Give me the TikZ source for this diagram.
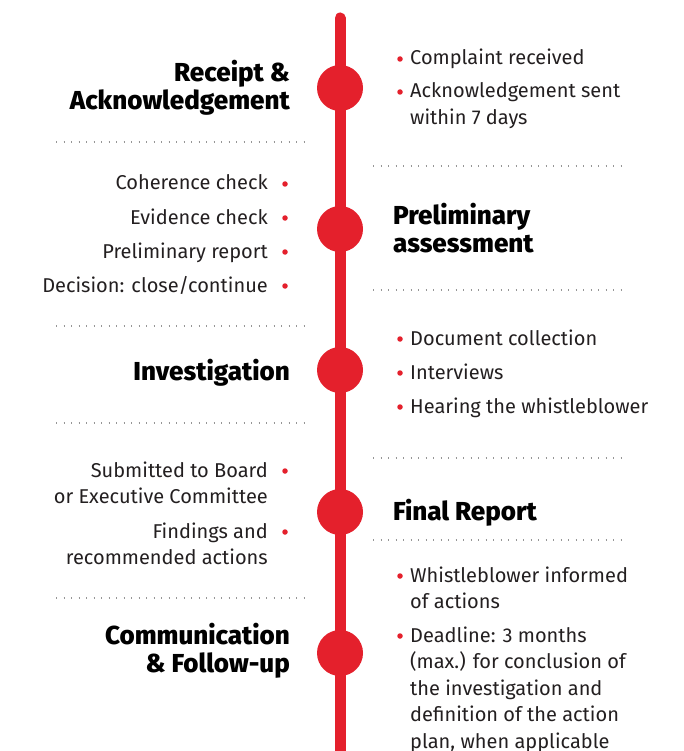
\documentclass[tikz,border=0pt]{standalone}
\usepackage{fontspec}
\setmainfont{Fira Sans}[BoldFont={Fira Sans ExtraBold}]
\usepackage{tikz}

\definecolor{tlRed}{RGB}{228,32,44}
\definecolor{tlText}{RGB}{35,31,32}
\definecolor{tlDots}{RGB}{150,150,150}

\begin{document}
\begin{tikzpicture}[x=1pt,y=-1pt,
  milestone/.style={circle,fill=tlRed,inner sep=0pt,minimum size=46pt},
  phase/.style={font=\fontsize{26}{28}\selectfont\bfseries,text=black,inner sep=0pt},
  item/.style={font=\fontsize{20}{26.5}\selectfont,text=tlText,inner sep=0pt},
  dot/.style={circle,fill=tlRed,inner sep=0pt,minimum size=5.5pt},
  sep/.style={tlDots,line width=1.4pt,dash pattern=on 1.4pt off 6.1pt}]
\useasboundingbox (0,0) rectangle (684,751);

% spine and milestones
\coordinate (top) at (340,18);
\coordinate (bot) at (340,770);
\draw[tlRed,line width=11pt,line cap=round] (top) -- (bot);
\node[milestone] (recpt) at (340,88) {};
\node[milestone] (prelim) at (340,229) {};
\node[milestone] (invest) at (340,370) {};
\node[milestone] (final) at (340,512) {};
\node[milestone] (comm) at (340,653) {};

% separators
\foreach \y in {142,326,423,598}
  \draw[sep] (56,\y) -- (305,\y);
\foreach \y in {166,290,458,540}
  \draw[sep] (373,\y) -- (622,\y);

% phase titles (base anchor sits on the last line)
\node[phase,align=right,anchor=base east] (recptT) at (290,110) {Receipt \&\\Acknowledgement};
\node[phase,align=left,anchor=base west] (prelimT) at (393,252) {Preliminary\\assessment};
\node[phase,anchor=base east] (investT) at (290,380) {Investigation};
\node[phase,anchor=base west] (finalT) at (393,520) {Final Report};
\node[phase,align=right,anchor=base east] (commT) at (290,672) {Communication\\\& Follow-up};

% right hand items: name / first baseline / lines / text
\foreach \n/\y/\k/\t in {r1/65/1/{Complaint received},
                         r2/98/2/{Acknowledgement sent\\within 7 days},
                         r3/345/1/{Document collection},
                         r4/379/1/{Interviews},
                         r5/413/1/{Hearing the whistleblower},
                         r6/582/2/{Whistleblower informed\\of actions},
                         r7/642/5/{Deadline: 3 months\\(max.) for conclusion of\\the investigation and\\definition of the action\\plan, when applicable}}
{
  \node[item,align=left,anchor=base west] (\n) at (410,\y+\k*26.5-26.5) {\t};
  \node[dot] (\n b) at (400,\y-6) {};
}

% left hand items
\foreach \n/\y/\k/\t in {l1/190/1/{Coherence check},
                         l2/224/1/{Evidence check},
                         l3/258/1/{Preliminary report},
                         l4/292/1/{Decision: close/continue},
                         l5/477/2/{Submitted to Board\\or Executive Committee},
                         l6/538/2/{Findings and\\recommended actions}}
{
  \node[item,align=right,anchor=base east] (\n) at (268,\y+\k*26.5-26.5) {\t};
  \node[dot] (\n b) at (285,\y-6) {};
}
\end{tikzpicture}
\end{document}
